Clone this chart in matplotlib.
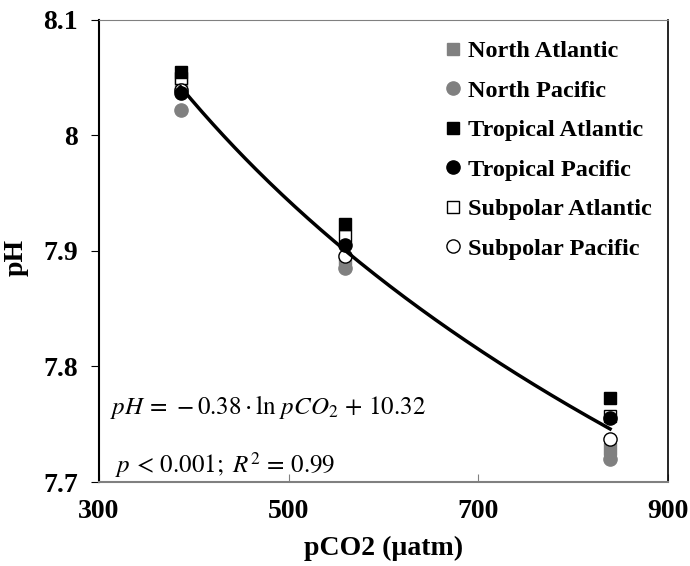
import numpy as np
import matplotlib.pyplot as plt

plt.rcParams['font.family'] = ['Liberation Serif', 'DejaVu Serif']
plt.rcParams['mathtext.fontset'] = 'stix'

pco2 = [386, 559, 839]

north_atlantic = [8.045, 7.893, 7.729]
north_pacific = [8.022, 7.885, 7.720]
tropical_atlantic = [8.055, 7.923, 7.773]
tropical_pacific = [8.037, 7.905, 7.755]
subpolar_atlantic = [8.050, 7.913, 7.757]
subpolar_pacific = [8.039, 7.896, 7.737]

GRAY = '#808080'

fig = plt.figure(figsize=(6.9, 5.66), dpi=100)
ax = fig.add_axes([0.1435, 0.1484, 0.8245, 0.8163])

series = [
    ('North Atlantic', north_atlantic, 's', GRAY, GRAY, 8, 2),
    ('North Pacific', north_pacific, 'o', GRAY, GRAY, 9.5, 2),
    ('Tropical Atlantic', tropical_atlantic, 's', 'black', 'black', 8, 4),
    ('Tropical Pacific', tropical_pacific, 'o', 'black', 'black', 9.5, 4),
    ('Subpolar Atlantic', subpolar_atlantic, 's', 'white', 'black', 8, 3),
    ('Subpolar Pacific', subpolar_pacific, 'o', 'white', 'black', 9.5, 3),
]
for name, vals, mk, fc, ec, ms, z in series:
    ax.plot(pco2, vals, linestyle='none', marker=mk, markersize=ms,
            markerfacecolor=fc, markeredgecolor=ec, markeredgewidth=1,
            label=name, zorder=z)

# logarithmic trend line fitted to all points
xs = np.array(pco2 * 6, dtype=float)
ys = np.concatenate([s[1] for s in series])
a, b = np.polyfit(np.log(xs), ys, 1)
xfit = np.linspace(min(pco2), max(pco2), 200)
ax.plot(xfit, a * np.log(xfit) + b, color='black', linewidth=2.5, zorder=5)

ax.set_xlim(300, 900)
ax.set_ylim(7.7, 8.1)
ax.set_xticks([300, 500, 700, 900])
ax.set_yticks([7.7, 7.8, 7.9, 8.0, 8.1])
ax.set_yticklabels(['7.7', '7.8', '7.9', '8', '8.1'])
ax.tick_params(axis='x', direction='in', length=6, color=GRAY, pad=12)
ax.tick_params(axis='y', direction='out', length=6, color='black', pad=9)
for lab in ax.get_xticklabels() + ax.get_yticklabels():
    lab.set_fontsize(20)
    lab.set_fontweight('bold')

ax.spines['left'].set_color('black')
ax.spines['left'].set_linewidth(1.5)
ax.spines['right'].set_color('black')
ax.spines['right'].set_linewidth(1.2)
ax.spines['top'].set_color(GRAY)
ax.spines['bottom'].set_color(GRAY)
ax.spines['bottom'].set_linewidth(1.5)

ax.set_xlabel('pCO2 (µatm)', fontsize=20, fontweight='bold', labelpad=9)
ax.set_ylabel('pH', fontsize=20, fontweight='bold')
ax.yaxis.set_label_coords(-0.124, 0.487)

ax.text(0.02, 0.162, r'$pH\, =\, -0.38 \cdot \ln\, pCO_2\, +\, 10.32$',
        transform=ax.transAxes, fontsize=18, va='center', ha='left')
ax.text(0.028, 0.036, r'$p\, <\, 0.001;\ R^2\, =\, 0.99$',
        transform=ax.transAxes, fontsize=18, va='center', ha='left')

leg = ax.legend(loc='upper right', frameon=False,
                prop={'weight': 'bold', 'size': 17.5}, handletextpad=0.1,
                handlelength=1.0, labelspacing=0.72, borderaxespad=0.0,
                bbox_to_anchor=(0.988, 0.977))

fig.savefig('out.png', dpi=100)
